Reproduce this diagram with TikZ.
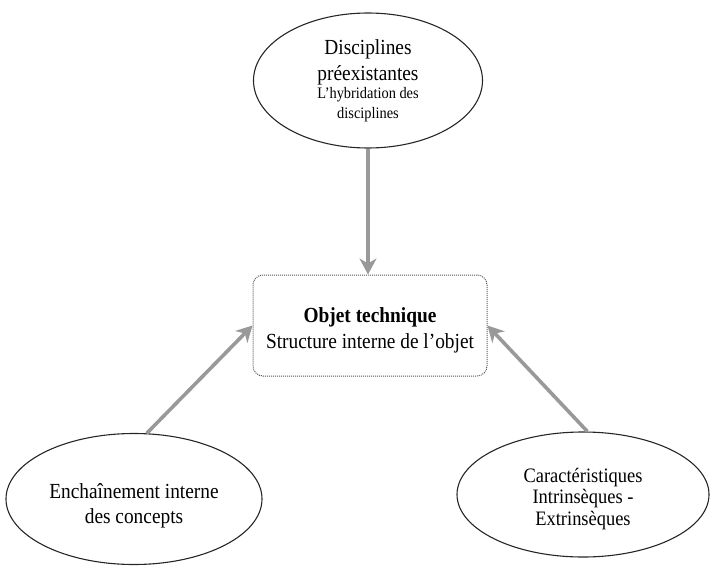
\documentclass[tikz,border=0pt]{standalone}
\usepackage{fontspec}
\setmainfont[FakeStretch=0.9]{Liberation Serif}
\usetikzlibrary{shapes.geometric,arrows.meta}
\begin{document}
\begin{tikzpicture}[x=1pt,y=-1pt,
  oval/.style={ellipse,draw=black!85,line width=1.1pt,inner sep=0pt,align=center},
  core/.style={rectangle,rounded corners=10pt,draw=black!65,densely dotted,line width=1pt,inner sep=0pt,align=center},
  feed/.style={draw=black!40,line width=3.6pt,-{Stealth[length=16pt,width=17pt,inset=5pt]}},
  big/.style={font=\fontsize{21.5}{26}\selectfont}]
\useasboundingbox (0,0) rectangle (711,567);
\node[oval,big,minimum width=229pt,minimum height=135pt] (top) at (368,80.5)
  {Disciplines\\préexistantes\\[-8pt]{\fontsize{16}{20}\selectfont L’hybridation des}\\[-6pt]{\fontsize{16}{20}\selectfont disciplines}};
\node[core,big,minimum width=234pt,minimum height=101pt] (box) at (370,325.5)
  {\rule{0pt}{23.7pt}\textbf{Objet technique}\\Structure interne de l’objet};
\node[oval,font=\fontsize{21.5}{25}\selectfont,minimum width=256pt,minimum height=131pt] (lft) at (134,499)
  {\rule{0pt}{27.7pt}Enchaînement interne\\des concepts};
\node[oval,font=\fontsize{20.5}{21.5}\selectfont,minimum width=252pt,minimum height=125pt] (rgt) at (583,494.5)
  {\rule{0pt}{22.5pt}Caractéristiques\\Intrinsèques -\\Extrinsèques};
\draw[feed] (top.south) -- (top.south |- box.north);
\draw[feed] (lft.79) -- (box.west);
\draw[feed] (rgt.86) -- (box.east);
\end{tikzpicture}
\end{document}
